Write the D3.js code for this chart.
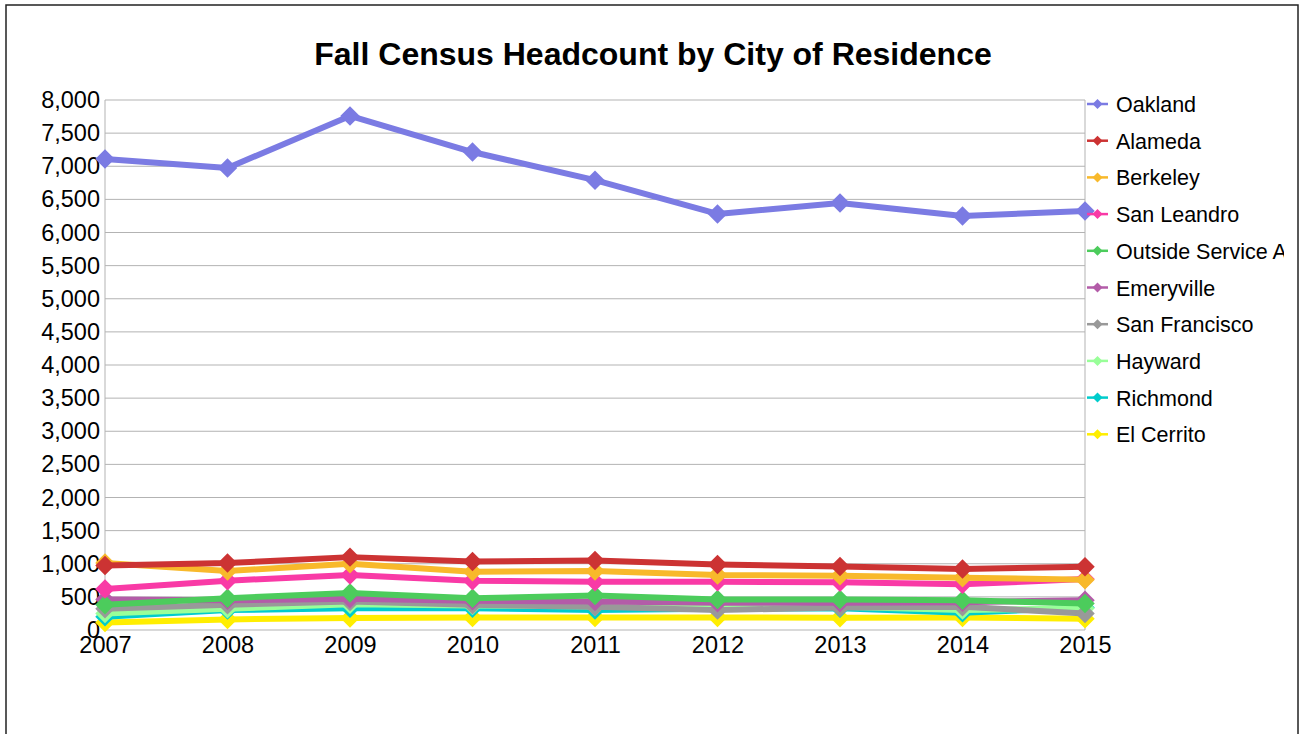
<!DOCTYPE html>
<html>
<head>
<meta charset="utf-8">
<script src="https://cdn.jsdelivr.net/npm/d3@7"></script>
<style>
  html, body { margin: 0; padding: 0; background: #fff; }
  svg { display: block; font-family: "Liberation Sans", Arial, sans-serif; }
</style>
</head>
<body>
<div id="chart"></div>
<script>
// Data
const years = [2007, 2008, 2009, 2010, 2011, 2012, 2013, 2014, 2015];
const cities = ['Oakland', 'Alameda', 'Berkeley', 'San Leandro', 'Outside Service Area',
                'Emeryville', 'San Francisco', 'Hayward', 'Richmond', 'El Cerrito'];
const oakland      = [7110, 6975, 7760, 7215, 6790, 6280, 6445, 6250, 6325];
const alameda      = [975, 1010, 1100, 1035, 1050, 990, 960, 920, 955];
const berkeley     = [1010, 890, 1000, 880, 890, 830, 820, 790, 760];
const sanLeandro   = [620, 745, 830, 745, 730, 730, 720, 690, 770];
const outside      = [380, 480, 560, 480, 520, 460, 460, 450, 400];
const emeryville   = [460, 450, 470, 440, 430, 410, 410, 420, 450];
const sanFrancisco = [320, 380, 430, 380, 350, 300, 340, 350, 250];
const hayward      = [250, 320, 390, 370, 355, 360, 350, 300, 330];
const richmond     = [200, 300, 330, 330, 300, 320, 330, 260, 340];
const elCerrito    = [115, 160, 180, 190, 190, 190, 186, 190, 170];
const yTicks = d3.range(0, 8001, 500);

const seriesValues = [oakland, alameda, berkeley, sanLeandro, outside,
                      emeryville, sanFrancisco, hayward, richmond, elCerrito];
const colors = ['#7b7be3', '#cc3333', '#f8b92b', '#f93aa6', '#4ccc5c',
                '#b35ca8', '#999999', '#99ff99', '#00cccc', '#ffee00'];

const width = 1299, height = 734;
const svg = d3.select('#chart').append('svg')
  .attr('width', width)
  .attr('height', height);

// outer frame
svg.append('rect')
  .attr('x', 6).attr('y', 5)
  .attr('width', 1292).attr('height', 760)
  .attr('fill', 'none')
  .attr('stroke', '#222')
  .attr('stroke-width', 1.5);

svg.append('text')
  .attr('x', 653).attr('y', 65)
  .attr('text-anchor', 'middle')
  .attr('font-size', 32)
  .attr('font-weight', 'bold')
  .text('Fall Census Headcount by City of Residence');

const x = d3.scalePoint().domain(years).range([105, 1085]);
const y = d3.scaleLinear().domain([0, 8000]).range([630, 100]);

// gridlines
svg.append('g')
  .selectAll('line')
  .data(yTicks)
  .join('line')
    .attr('x1', 105).attr('x2', 1085)
    .attr('y1', d => y(d)).attr('y2', d => y(d))
    .attr('stroke', '#b3b3b3')
    .attr('stroke-width', 1);

// plot frame
svg.append('line').attr('x1', 105).attr('x2', 105).attr('y1', 100).attr('y2', 630)
  .attr('stroke', '#b3b3b3');
svg.append('line').attr('x1', 1085).attr('x2', 1085).attr('y1', 100).attr('y2', 630)
  .attr('stroke', '#b3b3b3');

// y axis labels
const yAxis = d3.axisLeft(y).tickValues(yTicks).tickSize(0).tickPadding(5)
  .tickFormat(d3.format(','));
svg.append('g')
  .attr('transform', 'translate(105,0)')
  .call(yAxis)
  .call(g => g.select('.domain').remove())
  .selectAll('text')
    .attr('font-size', 23.5)
    .attr('font-family', '"Liberation Sans", Arial, sans-serif')
    .attr('fill', '#000');

// x axis labels
const xAxis = d3.axisBottom(x).tickSize(0).tickPadding(6);
svg.append('g')
  .attr('transform', 'translate(0,630)')
  .call(xAxis)
  .call(g => g.select('.domain').remove())
  .selectAll('text')
    .attr('font-size', 23.5)
    .attr('font-family', '"Liberation Sans", Arial, sans-serif')
    .attr('fill', '#000');

const line = d3.line()
  .x((d, i) => x(years[i]))
  .y(d => y(d));

// draw in reverse so the first series ends up on top
const order = d3.range(cities.length).reverse();
order.forEach(k => {
  const g = svg.append('g');
  g.append('path')
    .datum(seriesValues[k])
    .attr('d', line)
    .attr('fill', 'none')
    .attr('stroke', colors[k])
    .attr('stroke-width', 6)
    .attr('stroke-linejoin', 'round');
  g.selectAll('path.pt')
    .data(seriesValues[k])
    .join('path')
      .attr('class', 'pt')
      .attr('transform', (d, i) => `translate(${x(years[i])},${y(d)}) rotate(45)`)
      .attr('d', d3.symbol().type(d3.symbolSquare).size(190))
      .attr('fill', colors[k]);
});

// legend
svg.append('clipPath').attr('id', 'legclip')
  .append('rect').attr('x', 1086).attr('y', 80).attr('width', 198).attr('height', 400);

const legend = svg.append('g').attr('clip-path', 'url(#legclip)');
cities.forEach((c, i) => {
  const ly = 104 + i * 36.7;
  legend.append('line')
    .attr('x1', 1087).attr('x2', 1108)
    .attr('y1', ly).attr('y2', ly)
    .attr('stroke', colors[i])
    .attr('stroke-width', 2.5);
  legend.append('path')
    .attr('transform', `translate(1097.5,${ly}) rotate(45)`)
    .attr('d', d3.symbol().type(d3.symbolSquare).size(50))
    .attr('fill', colors[i]);
  legend.append('text')
    .attr('x', 1116).attr('y', ly + 8)
    .attr('font-size', 21.5)
    .text(c);
});
</script>
</body>
</html>
